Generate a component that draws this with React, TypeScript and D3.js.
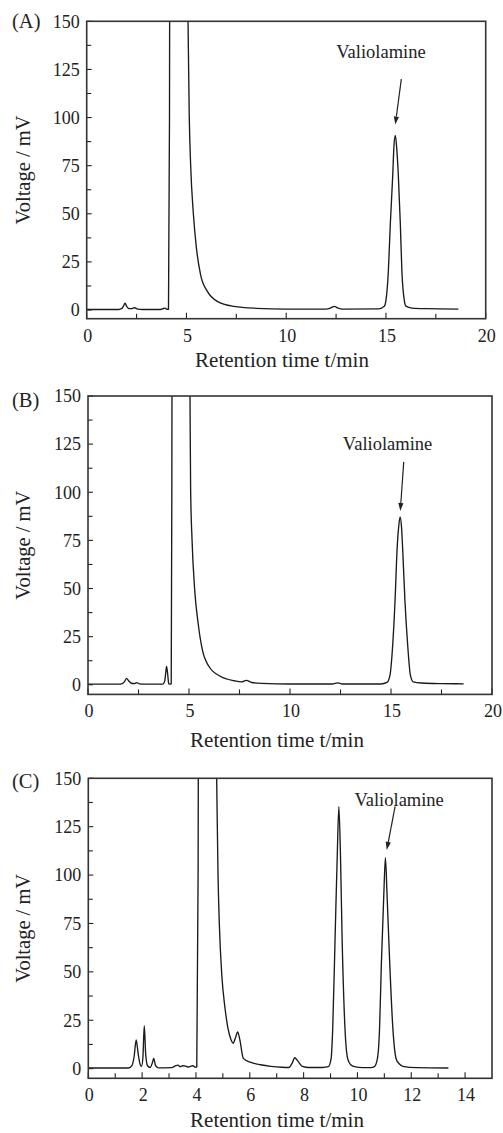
import React from 'react';
import * as d3 from 'd3';

// ---------- data (retention time in min, voltage in mV) ----------
const timeA = [0, 1.6, 1.78, 1.85, 1.92, 2.0, 2.1, 2.25, 2.4, 2.55, 2.8, 3.7, 3.85, 3.93, 4.02, 4.1, 4.15, 4.18, 4.6, 5.0, 5.08, 5.14, 5.21, 5.35, 5.5, 5.71, 6.05, 6.55, 7.38, 8.5, 10, 12.0, 12.25, 12.41, 12.6, 12.8, 14.6, 14.92, 15.0, 15.12, 15.22, 15.34, 15.4, 15.47, 15.54, 15.62, 15.72, 15.8, 15.92, 16.0, 16.3, 17.0, 18.63];
const voltA = [0.3, 0.3, 1.0, 2.2, 3.6, 2.0, 0.8, 0.7, 1.2, 0.5, 0.3, 0.3, 0.8, 1.0, 0.4, 0.4, 100, 300, 600, 220, 150, 101, 75.5, 49.5, 32.2, 18.3, 9.7, 4.5, 1.9, 0.9, 0.5, 0.5, 1.2, 1.9, 1.0, 0.5, 0.6, 2, 5, 20, 45, 70, 85, 90.7, 84, 70, 45, 20, 5, 2, 1.0, 0.7, 0.5];

const timeB = [0, 1.6, 1.8, 1.91, 2.0, 2.15, 2.3, 2.41, 2.55, 2.8, 3.7, 3.8, 3.85, 3.89, 3.94, 4.0, 4.05, 4.12, 4.15, 4.18, 4.6, 4.98, 5.05, 5.08, 5.15, 5.28, 5.45, 5.66, 5.99, 6.57, 7.23, 7.6, 7.84, 8.1, 8.6, 10, 12.1, 12.36, 12.6, 14.5, 14.8, 14.95, 15.08, 15.2, 15.3, 15.38, 15.45, 15.52, 15.58, 15.69, 15.83, 15.96, 16.1, 16.5, 17.5, 18.6];
const voltB = [0.3, 0.3, 1.5, 3.3, 2.2, 0.8, 0.6, 1.1, 0.5, 0.3, 0.3, 2, 6.5, 9.5, 6, 0.5, 0.3, 0.5, 100, 300, 600, 250, 150, 101.6, 75.5, 49.5, 32.1, 18.2, 9.5, 4.3, 2.1, 1.5, 2.3, 1.2, 0.7, 0.4, 0.4, 1.0, 0.4, 0.4, 1.2, 5, 20, 43.6, 70, 82, 87.2, 82, 70, 43.6, 20, 5, 1.5, 0.9, 0.6, 0.5];

const timeC = [0, 1.5, 1.62, 1.7, 1.78, 1.85, 1.93, 1.98, 2.03, 2.08, 2.13, 2.2, 2.3, 2.38, 2.43, 2.5, 2.6, 3.1, 3.25, 3.33, 3.42, 3.52, 3.62, 3.72, 3.8, 3.89, 3.97, 4.03, 4.08, 4.11, 4.4, 4.72, 4.77, 4.82, 4.87, 4.96, 5.08, 5.19, 5.3, 5.38, 5.47, 5.55, 5.63, 5.76, 6.04, 6.4, 6.78, 7.2, 7.45, 7.58, 7.67, 7.78, 7.95, 8.2, 8.7, 8.92, 9.02, 9.08, 9.17, 9.25, 9.31, 9.37, 9.43, 9.54, 9.64, 9.75, 9.89, 10.2, 10.5, 10.63, 10.74, 10.82, 10.89, 10.98, 11.04, 11.1, 11.2, 11.32, 11.44, 11.55, 11.69, 12.2, 13.38];
const voltC = [0.3, 0.3, 1.5, 6, 14.8, 8, 2, 1.2, 6, 22.2, 8, 1.5, 0.6, 3, 5.3, 1.5, 0.4, 0.5, 1.5, 1.8, 1.0, 1.5, 1.3, 0.8, 1.2, 1.5, 0.8, 0.8, 100, 300, 600, 200, 150, 100, 74.2, 48.4, 31.2, 20.8, 15, 13.1, 16, 18.9, 15, 5.3, 3.2, 2.0, 1.2, 0.7, 0.6, 3, 5.6, 4, 1.2, 0.6, 0.6, 1, 5, 20, 67.7, 110, 135.4, 110, 67.7, 20, 5, 2, 1.0, 0.5, 0.5, 1, 5, 20, 54.5, 90, 109, 90, 54.5, 20, 5, 2.5, 1.2, 0.5, 0.3];

const xTicksAB = [0, 5, 10, 15, 20];
const xMinorAB = [2.5, 7.5, 12.5, 17.5];
const xTicksC = [0, 2, 4, 6, 8, 10, 12, 14];
const xMinorC = [1, 3, 5, 7, 9, 11, 13];
const yTicks = [0, 25, 50, 75, 100, 125, 150];
const yMinor = [12.5, 37.5, 62.5, 87.5, 112.5, 137.5];

const panelLabels = ['(A)', '(B)', '(C)'];
const peakName = 'Valiolamine';
const xTitle = 'Retention time t/min';
const yTitle = 'Voltage / mV';

// annotation anchor points in data units: [t, v]
const labelPosA = [14.75, 134.3];
const labelPosB = [14.83, 125.5];
const labelPosC = [11.55, 139.2];
const arrowTailA = [15.77, 120];
const arrowTipA = [15.47, 96.4];
const arrowTailB = [15.63, 115.8];
const arrowTipB = [15.46, 90.3];
const arrowTailC = [11.4, 135.5];
const arrowTipC = [11.09, 113];

// ---------- layout ----------
const FONT = '"Liberation Serif", "Times New Roman", Times, serif';
const INK = '#222';

const panels = [
  {
    id: 'A', time: timeA, volt: voltA, frame: { l: 86.7, t: 21.3, r: 485.7, b: 318.7 },
    xDomain: [0, 20], yDomain: [-4.5, 150], xTicks: xTicksAB, xMinor: xMinorAB,
    titleX: 282, titleY: 366.5, letterY: 28, label: panelLabels[0],
    labelPos: labelPosA, tail: arrowTailA, tip: arrowTipA,
  },
  {
    id: 'B', time: timeB, volt: voltB, frame: { l: 88, t: 396, r: 492, b: 694.4 },
    xDomain: [0, 20], yDomain: [-5, 150], xTicks: xTicksAB, xMinor: xMinorAB,
    titleX: 277, titleY: 746.5, letterY: 406.7, label: panelLabels[1],
    labelPos: labelPosB, tail: arrowTailB, tip: arrowTipB,
  },
  {
    id: 'C', time: timeC, volt: voltC, frame: { l: 88.3, t: 778.3, r: 492, b: 1078.3 },
    xDomain: [0, 15], yDomain: [-5, 150], xTicks: xTicksC, xMinor: xMinorC,
    titleX: 277, titleY: 1127, letterY: 787.7, label: panelLabels[2],
    labelPos: labelPosC, tail: arrowTailC, tip: arrowTipC,
  },
];

function Panel({ p }: { p: any }) {
  const { frame } = p;
  const x = d3.scaleLinear().domain(p.xDomain).range([frame.l, frame.r]);
  const y = d3.scaleLinear().domain(p.yDomain).range([frame.b, frame.t]);
  const pts: [number, number][] = p.time.map((t: number, i: number) => [t, p.volt[i]]);
  const line = d3.line<[number, number]>()
    .x(d => x(d[0]))
    .y(d => y(d[1]))
    .curve(d3.curveMonotoneX);
  const clipId = `clip-${p.id}`;

  const tx = x(p.tail[0]), ty = y(p.tail[1]);
  const hx = x(p.tip[0]), hy = y(p.tip[1]);
  const dx = hx - tx, dy = hy - ty;
  const len = Math.hypot(dx, dy);
  const ux = dx / len, uy = dy / len;
  const headL = 8, headW = 2.6;
  const bx = hx - ux * headL, by = hy - uy * headL;
  const head = `${hx},${hy} ${bx - uy * headW},${by + ux * headW} ${bx + uy * headW},${by - ux * headW}`;

  const midY = (frame.t + frame.b) / 2;

  return (
    <g>
      <defs>
        <clipPath id={clipId}>
          <rect x={frame.l} y={frame.t} width={frame.r - frame.l} height={frame.b - frame.t} />
        </clipPath>
      </defs>
      <path d={line(pts) || ''} fill="none" stroke="#1a1a1a" strokeWidth={1.35} clipPath={`url(#${clipId})`} strokeLinejoin="round" />
      {/* ticks (inward) */}
      {yTicks.map(v => (
        <line key={`yt${v}`} x1={frame.l} x2={frame.l + 5} y1={y(v)} y2={y(v)} stroke={INK} strokeWidth={1.1} />
      ))}
      {yMinor.map(v => (
        <line key={`ym${v}`} x1={frame.l} x2={frame.l + 4.5} y1={y(v)} y2={y(v)} stroke={INK} strokeWidth={1.1} />
      ))}
      {p.xTicks.map((t: number) => (
        <line key={`xt${t}`} x1={x(t)} x2={x(t)} y1={frame.b} y2={frame.b - 6} stroke={INK} strokeWidth={1.1} />
      ))}
      {p.xMinor.map((t: number) => (
        <line key={`xm${t}`} x1={x(t)} x2={x(t)} y1={frame.b} y2={frame.b - 5} stroke={INK} strokeWidth={1.1} />
      ))}
      <rect x={frame.l} y={frame.t} width={frame.r - frame.l} height={frame.b - frame.t} fill="none" stroke="#333" strokeWidth={1.6} />
      {/* tick labels */}
      {yTicks.map(v => (
        <text key={`yl${v}`} x={frame.l - 7} y={y(v)} dy="0.35em" textAnchor="end" fontSize={18} fontFamily={FONT} fill={INK}>{v}</text>
      ))}
      {p.xTicks.map((t: number) => (
        <text key={`xl${t}`} x={x(t) + 1} y={frame.b + 23} textAnchor="middle" fontSize={18} fontFamily={FONT} fill={INK}>{t}</text>
      ))}
      {/* titles */}
      <text x={p.titleX} y={p.titleY} textAnchor="middle" fontSize={21} fontFamily={FONT} fill={INK}>{xTitle}</text>
      <text transform={`translate(${29.5},${midY}) rotate(-90)`} textAnchor="middle" fontSize={20.5} fontFamily={FONT} fill={INK}>{yTitle}</text>
      <text x={12} y={p.letterY} fontSize={20.5} fontFamily={FONT} fill={INK}>{p.label}</text>
      {/* annotation */}
      <text x={x(p.labelPos[0])} y={y(p.labelPos[1])} dy="0.35em" textAnchor="middle" fontSize={18.5} fontFamily={FONT} fill={INK}>{peakName}</text>
      <line x1={tx} y1={ty} x2={bx} y2={by} stroke={INK} strokeWidth={1.2} />
      <polygon points={head} fill={INK} />
    </g>
  );
}

export default function App() {
  return (
    <svg width={503} height={1133} style={{ position: 'absolute', left: 0, top: 0, background: '#fff' }}>
      <rect x={0} y={0} width={503} height={1133} fill="#fff" />
      {panels.map(p => <Panel key={p.id} p={p} />)}
    </svg>
  );
}
